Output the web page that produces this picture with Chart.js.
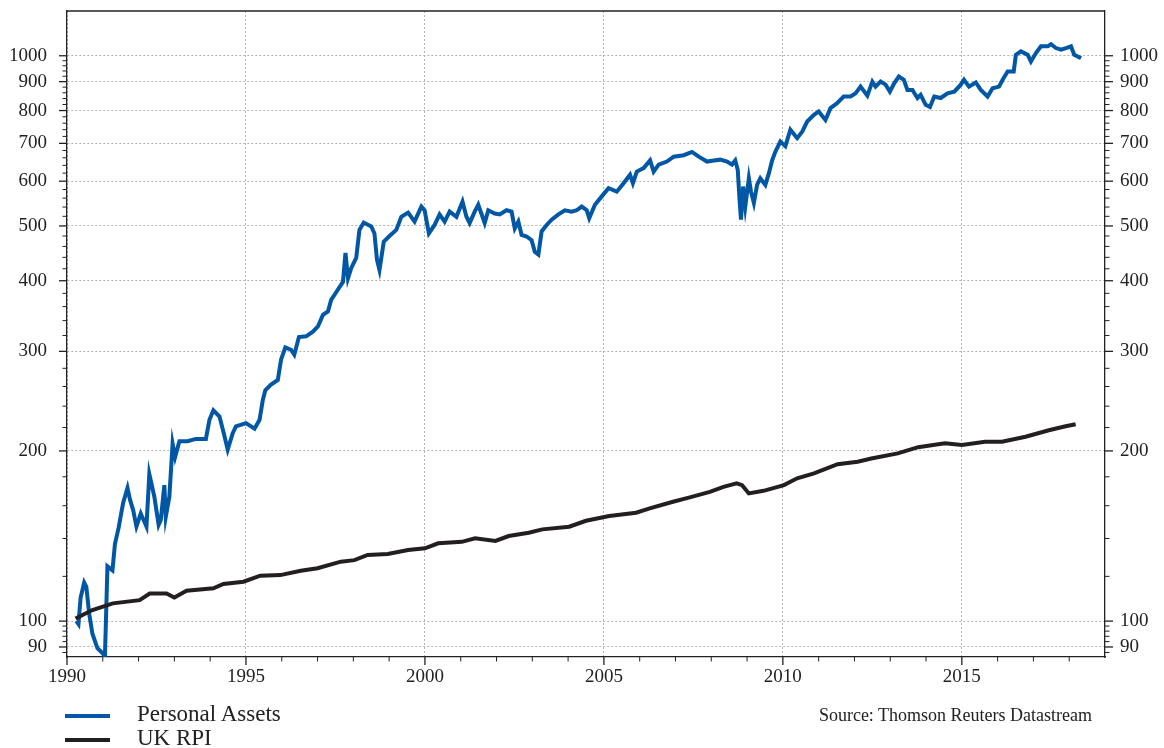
<!DOCTYPE html>
<html>
<head>
<meta charset="utf-8">
<script src="https://cdn.jsdelivr.net/npm/chart.js@4.4.1/dist/chart.umd.min.js"></script>
<style>
	body { margin: 0; background: #fff; }
	#wrap {
		position: relative;
		width: 1164px;
		height: 748px;
		font-family: "Liberation Serif", "Times New Roman", serif;
		color: #222;
	}
	#wrap canvas { position: absolute; left: 0; top: 0; }
	.legend-row {
		position: absolute;
		left: 65px;
		height: 24px;
		display: flex;
		align-items: center;
		font-size: 23px;
		white-space: nowrap;
	}
	.legend-row .swatch { width: 45px; height: 4px; margin-right: 27px; margin-top: 3px; }
	.source { position: absolute; right: 72px; top: 705px; font-size: 18px; white-space: nowrap; }
</style>
</head>
<body>
<div id="wrap">
	<canvas id="chart" width="1164" height="748"></canvas>
	<div class="legend-row" style="top: 702px"><span class="swatch" style="background: #0057a6"></span>Personal Assets</div>
	<div class="legend-row" style="top: 726px"><span class="swatch" style="background: #231f20"></span>UK RPI</div>
	<div class="source">Source: Thomson Reuters Datastream</div>
</div>
<script>
// Personal Assets (decimal year / index value)
const paYears = [
	1990.26, 1990.32, 1990.38, 1990.48, 1990.54, 1990.62, 1990.71, 1990.85, 1990.99, 1991.06,
	1991.13, 1991.27, 1991.34, 1991.44, 1991.53, 1991.57, 1991.69, 1991.76, 1991.85, 1991.94,
	1992.06, 1992.22, 1992.30, 1992.44, 1992.56, 1992.62, 1992.72, 1992.76, 1992.86, 1992.95,
	1993.02, 1993.14, 1993.37, 1993.60, 1993.88, 1993.98, 1994.09, 1994.26, 1994.38, 1994.49,
	1994.63, 1994.72, 1995.00, 1995.24, 1995.38, 1995.47, 1995.54, 1995.70, 1995.89, 1995.98,
	1996.10, 1996.26, 1996.35, 1996.48, 1996.68, 1996.87, 1997.01, 1997.15, 1997.29, 1997.38,
	1997.57, 1997.71, 1997.78, 1997.85, 1997.94, 1998.08, 1998.17, 1998.29, 1998.50, 1998.59,
	1998.66, 1998.73, 1998.85, 1999.01, 1999.20, 1999.34, 1999.53, 1999.71, 1999.90, 1999.99,
	2000.11, 2000.27, 2000.41, 2000.55, 2000.69, 2000.88, 2001.05, 2001.16, 2001.25, 2001.39,
	2001.49, 2001.67, 2001.77, 2001.95, 2002.09, 2002.28, 2002.42, 2002.51, 2002.61, 2002.70,
	2002.84, 2002.98, 2003.07, 2003.17, 2003.26, 2003.40, 2003.54, 2003.73, 2003.91, 2004.10,
	2004.24, 2004.38, 2004.52, 2004.59, 2004.75, 2004.94, 2005.13, 2005.36, 2005.55, 2005.73,
	2005.81, 2005.92, 2006.11, 2006.29, 2006.39, 2006.53, 2006.76, 2006.95, 2007.23, 2007.46,
	2007.65, 2007.88, 2008.07, 2008.25, 2008.44, 2008.58, 2008.67, 2008.74, 2008.79, 2008.83,
	2008.89, 2008.95, 2009.05, 2009.11, 2009.19, 2009.28, 2009.37, 2009.51, 2009.61, 2009.70,
	2009.79, 2009.93, 2010.07, 2010.21, 2010.40, 2010.54, 2010.68, 2010.87, 2011.00, 2011.19,
	2011.33, 2011.52, 2011.70, 2011.89, 2012.03, 2012.17, 2012.36, 2012.50, 2012.59, 2012.73,
	2012.87, 2012.99, 2013.11, 2013.24, 2013.38, 2013.48, 2013.62, 2013.76, 2013.85, 2013.99,
	2014.11, 2014.23, 2014.41, 2014.60, 2014.79, 2014.97, 2015.06, 2015.20, 2015.39, 2015.53,
	2015.72, 2015.86, 2016.04, 2016.14, 2016.28, 2016.45, 2016.51, 2016.65, 2016.84, 2016.93,
	2017.07, 2017.21, 2017.40, 2017.49, 2017.63, 2017.77, 2017.91, 2018.05, 2018.14, 2018.24,
	2018.33
];
const paValues = [
	100, 98.8, 110, 117, 115, 103, 95, 89.6, 87.8, 86.6,
	125, 123, 137, 146, 157, 162, 172, 164, 157, 147,
	155, 147, 182, 166, 148, 151, 174, 153, 166, 206,
	195, 208, 208, 210, 210, 227, 236, 230, 215, 201,
	215, 221, 224, 219, 227, 246, 256, 262, 267, 290,
	305, 302, 296, 318, 319, 325, 332, 348, 353, 370,
	386, 398, 448, 404, 421, 439, 492, 507, 499, 485,
	436, 418, 469, 480, 492, 519, 528, 509, 541, 533,
	485, 502, 524, 509, 530, 519, 552, 519, 506, 530,
	545, 506, 533, 526, 524, 533, 530, 495, 509, 482,
	479, 472, 450, 445, 489, 502, 513, 524, 533, 530,
	533, 541, 533, 516, 545, 564, 583, 575, 595, 616,
	595, 624, 633, 653, 624, 642, 650, 663, 667, 676,
	663, 650, 653, 655, 650, 642, 653, 628, 556, 513,
	587, 541, 607, 575, 549, 591, 607, 591, 620, 653,
	676, 705, 692, 740, 715, 734, 765, 786, 797, 770,
	808, 825, 847, 847, 858, 882, 850, 900, 882, 900,
	889, 864, 894, 919, 907, 870, 870, 842, 853, 819,
	812, 847, 842, 858, 864, 889, 907, 882, 897, 870,
	847, 876, 882, 907, 938, 938, 1004, 1018, 1004, 977,
	1011, 1039, 1039, 1048, 1032, 1025, 1032, 1039, 1004, 997,
	990
];

// UK RPI, same scale
const rpiYears = [
	1990.24, 1990.71, 1991.28, 1992.03, 1992.31, 1992.78, 1993.00, 1993.34, 1994.09, 1994.37,
	1994.93, 1995.40, 1995.96, 1996.53, 1997.00, 1997.65, 1998.03, 1998.40, 1998.96, 1999.53,
	2000.00, 2000.37, 2001.03, 2001.40, 2001.97, 2002.34, 2002.90, 2003.28, 2004.03, 2004.50,
	2005.15, 2005.90, 2006.28, 2006.93, 2007.40, 2007.96, 2008.34, 2008.71, 2008.86, 2009.05,
	2009.46, 2010.03, 2010.40, 2010.87, 2011.53, 2012.09, 2012.47, 2013.21, 2013.78, 2014.53,
	2015.00, 2015.65, 2016.12, 2016.78, 2017.43, 2017.90, 2018.18
];
const rpiValues = [
	101.1, 104.6, 107.5, 108.9, 111.9, 111.9, 110.1, 113.2, 114.3, 116.3,
	117.4, 120.3, 120.6, 122.8, 124.0, 127.4, 128.2, 130.9, 131.4, 133.6,
	134.5, 137.3, 138.1, 140.1, 138.6, 141.4, 143.3, 145.3, 146.9, 150.5,
	153.4, 155.5, 158.3, 162.6, 165.5, 169.3, 172.8, 175.2, 174.0, 168.2,
	170.0, 174.0, 178.9, 182.5, 189.5, 191.4, 193.9, 198.0, 203.1, 206.3,
	204.9, 207.6, 207.6, 211.9, 217.6, 221.1, 222.9
];

// axis ticks
const xMajorTicks = [1990, 1995, 2000, 2005, 2010, 2015];
const xMinorTicks = [];
for (let yr = 1991; yr < 2019; yr++) if (yr % 5 !== 0) xMinorTicks.push(yr);
const yMajorTicks = [90, 100, 200, 300, 400, 500, 600, 700, 800, 900, 1000];
const yMinorTicks = [88, 92, 94, 96, 98];
for (let base = 100; base < 1000; base += 100) {
	for (let k = 20; k < 100; k += 20) yMinorTicks.push(base + k);
}

const fontFamily = '"Liberation Serif", "Times New Roman", serif';
const inkColor = "#222";
const gridColor = "#b4b4b4";

// matplotlib-like outward ticks and the top spine
const axisTicks = {
	id: "axisTicks",
	afterDraw(chart) {
		const { ctx, chartArea: area, scales } = chart;
		const line = (x1, y1, x2, y2, w) => {
			ctx.lineWidth = w;
			ctx.beginPath();
			ctx.moveTo(x1, y1);
			ctx.lineTo(x2, y2);
			ctx.stroke();
		};
		ctx.save();
		ctx.strokeStyle = inkColor;
		line(area.left, area.top, area.right, area.top, 1.3);
		for (const v of yMajorTicks) {
			const p = scales.y.getPixelForValue(v);
			line(area.left - 8, p, area.left, p, 1.3);
			line(area.right, p, area.right + 8, p, 1.3);
		}
		for (const v of yMinorTicks) {
			const p = scales.y.getPixelForValue(v);
			line(area.left - 4.5, p, area.left, p, 1);
			line(area.right, p, area.right + 4.5, p, 1);
		}
		for (const v of xMajorTicks) {
			const p = scales.x.getPixelForValue(v);
			line(p, area.bottom, p, area.bottom + 8, 1.3);
		}
		for (const v of xMinorTicks) {
			const p = scales.x.getPixelForValue(v);
			line(p, area.bottom, p, area.bottom + 4.5, 1);
		}
		ctx.restore();
	}
};

const toPoints = (xs, ys) => xs.map((x, i) => ({ x, y: ys[i] }));
const tickFont = { family: fontFamily, size: 19 };
// fixed box sizes so the plot area lands where the reference has it
const fixBox = (w, h) => scale => {
	if (w) scale.width = w;
	if (h) scale.height = h;
	scale.paddingTop = 0;
	scale.paddingBottom = 0;
	scale.paddingLeft = 0;
	scale.paddingRight = 0;
};

new Chart(document.getElementById("chart"), {
	type: "line",
	data: {
		datasets: [
			{
				label: "Personal Assets",
				data: toPoints(paYears, paValues),
				borderColor: "#0057a6",
				borderWidth: 4,
				pointRadius: 0,
				tension: 0,
				order: 1
			},
			{
				label: "UK RPI",
				data: toPoints(rpiYears, rpiValues),
				borderColor: "#231f20",
				borderWidth: 4,
				pointRadius: 0,
				tension: 0,
				order: 0
			}
		]
	},
	options: {
		responsive: false,
		animation: false,
		layout: { padding: { top: 11, left: 0, right: 0, bottom: 0 } },
		plugins: {
			legend: { display: false },
			tooltip: { enabled: false }
		},
		scales: {
			x: {
				type: "linear",
				position: "bottom",
				min: 1990,
				max: 2019,
				bounds: "data",
				afterBuildTicks(scale) {
					scale.ticks = xMajorTicks.map(value => ({ value }));
				},
				afterFit: fixBox(0, 91),
				grid: { drawTicks: false, color: gridColor, lineWidth: 1 },
				border: { color: inkColor, width: 1.3, dash: [2, 2] },
				ticks: {
					autoSkip: false,
					maxRotation: 0,
					padding: 9,
					color: inkColor,
					font: tickFont,
					callback: v => String(v)
				}
			},
			y: {
				type: "logarithmic",
				position: "left",
				min: 86.4,
				max: 1200,
				bounds: "data",
				afterBuildTicks(scale) {
					scale.ticks = yMajorTicks.map(value => ({ value }));
				},
				afterFit: fixBox(67, 0),
				grid: { drawTicks: false, color: gridColor, lineWidth: 1 },
				border: { color: inkColor, width: 1.3, dash: [2, 2] },
				ticks: {
					autoSkip: false,
					padding: 20,
					color: inkColor,
					font: tickFont,
					callback: v => String(v)
				}
			},
			y2: {
				type: "logarithmic",
				position: "right",
				min: 86.4,
				max: 1200,
				bounds: "data",
				afterBuildTicks(scale) {
					scale.ticks = yMajorTicks.map(value => ({ value }));
				},
				afterFit: fixBox(59, 0),
				grid: { display: false, drawTicks: false },
				border: { color: inkColor, width: 1.3 },
				ticks: {
					autoSkip: false,
					padding: 15,
					color: inkColor,
					font: tickFont,
					callback: v => String(v)
				}
			}
		}
	},
	plugins: [axisTicks]
});
</script>
</body>
</html>
